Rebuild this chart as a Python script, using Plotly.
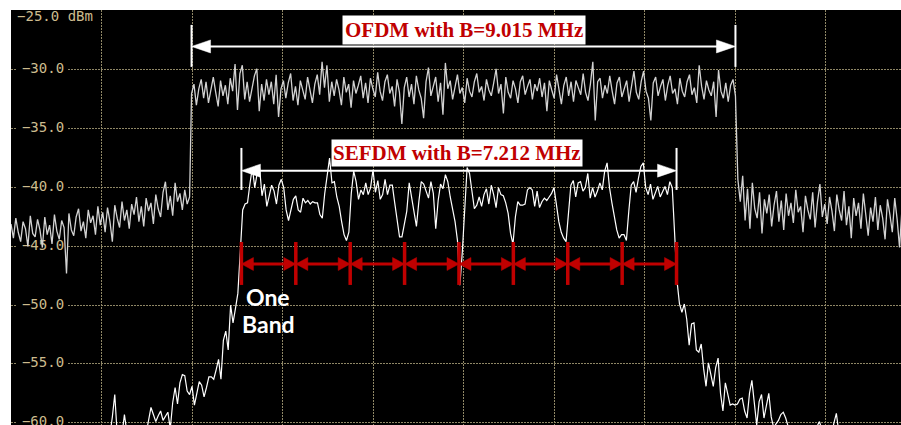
import numpy as np
import plotly.graph_objects as go

# ---------------------------------------------------------------------------
# Spectrum analyser sweep (frequency relative to centre, MHz; level in dBm)
# ---------------------------------------------------------------------------
F_START = -7.5          # left edge of the screen
F_STEP = 0.04           # MHz between sweep points

OFDM_BW = 9.015         # MHz
SEFDM_BW = 7.212        # MHz
SEFDM_CENTER = -0.075   # MHz
N_BANDS = 8

# OFDM trace: noise floor left of the band, occupied band, noise floor right
ofdm_floor_left = [
    -43.1, -44.3, -42.6, -43.8, -44.6, -42.9, -43.5, -45.0, -42.4, -43.9,
    -44.2, -42.7, -43.6, -45.1, -42.5, -44.0, -43.2, -44.8, -42.3, -43.7,
    -44.4, -42.8, -43.4, -47.3, -42.2, -43.6, -44.1, -42.5, -41.8, -43.7,
    -42.9, -44.3, -41.9, -43.0, -42.4, -44.0, -41.6, -43.2, -42.1, -43.8,
    -41.7, -42.9, -44.6, -41.5, -42.6, -43.4, -41.2, -42.8, -41.9, -43.5,
    -41.4, -42.3, -40.8, -42.9, -41.6, -43.3, -40.9, -42.0, -41.3, -43.1,
    -40.6, -41.8, -42.5, -40.4, -39.5, -41.9, -40.7, -42.4, -39.6, -41.2,
    -40.5, -41.9, -40.2, -41.4, -40.8,
]
ofdm_band = [
    -32.0, -31.2, -33.0, -31.6, -30.8, -32.4, -31.0, -32.8, -31.5, -30.6,
    -31.9, -33.1, -30.9, -32.2, -31.3, -32.9, -30.7, -31.8, -29.5, -33.4,
    -30.3, -29.6, -32.5, -31.0, -32.7, -31.4, -30.5, -29.9, -33.5, -31.2,
    -32.6, -30.8, -32.1, -31.0, -32.9, -30.4, -34.0, -31.6, -30.9, -32.4,
    -31.1, -30.3, -32.6, -31.4, -33.0, -30.9, -31.8, -32.5, -30.6, -31.9,
    -32.8, -31.2, -30.4, -32.1, -29.3, -31.5, -29.6, -32.7, -31.0, -32.2,
    -30.8, -31.7, -33.0, -30.6, -31.9, -31.2, -33.2, -30.9, -32.0, -31.3,
    -30.5, -32.4, -31.1, -32.8, -30.7, -31.6, -32.3, -30.2, -31.8, -32.6,
    -31.0, -30.4, -32.0, -31.4, -33.1, -30.8, -31.9, -34.6, -31.5, -30.6,
    -32.3, -31.2, -32.9, -30.5, -31.7, -32.4, -34.1, -31.0, -29.8, -32.2,
    -31.3, -30.6, -32.7, -31.1, -33.8, -29.4, -31.6, -30.9, -32.5, -31.3,
    -30.4, -32.0, -31.5, -32.8, -30.7, -31.8, -32.3, -31.0, -30.3, -31.9,
    -31.4, -32.6, -30.8, -31.7, -32.2, -31.1, -29.9, -32.0, -31.2, -33.7,
    -30.6, -31.9, -32.4, -30.9, -31.6, -32.8, -31.0, -30.5, -32.1, -31.4,
    -30.8, -32.5, -31.2, -31.8, -30.7, -32.3, -31.1, -33.5, -30.9, -31.7,
    -32.4, -30.4, -31.8, -32.9, -31.3, -30.6, -32.2, -31.0, -32.7, -30.9,
    -31.5, -32.1, -30.3, -31.9, -32.6, -31.2, -29.3, -34.3, -31.0, -30.7,
    -32.4, -31.3, -32.0, -30.5, -31.8, -32.9, -31.1, -30.6, -32.3, -31.5,
    -30.9, -32.7, -31.2, -30.1, -31.9, -32.5, -31.0, -30.1, -31.8, -32.4,
    -34.3, -31.1, -30.6, -32.2, -31.4, -30.8, -32.6, -31.3, -30.5, -32.0,
    -31.6, -32.9, -30.7, -31.8, -32.3, -31.0, -30.4, -32.1, -31.5, -32.8,
    -29.6, -31.4, -32.5, -30.9, -31.7, -32.2, -31.0, -34.0, -30.0, -31.8,
    -32.4, -31.1, -32.7, -31.3, -30.8, -32.2,
]
ofdm_floor_right = [
    -39.3, -41.2, -39.0, -42.8, -40.1, -43.5, -39.6, -41.8, -42.6, -40.4,
    -43.9, -41.0, -42.2, -40.6, -43.3, -41.5, -40.3, -42.9, -41.1, -43.6,
    -40.5, -42.4, -41.3, -43.0, -40.2, -42.1, -41.6, -43.8, -40.7, -41.9,
    -42.7, -40.4, -43.4, -41.2, -39.7, -42.5, -41.4, -43.1, -40.8, -42.0,
    -43.7, -40.6, -41.9, -42.8, -40.3, -43.2, -41.6, -44.3, -40.9, -42.4,
    -41.3, -43.5, -40.5, -42.2, -44.1, -41.7, -42.9, -40.8, -43.6, -41.5,
    -42.6, -44.4, -41.0, -42.3, -43.8, -40.9, -42.7, -45.1, -41.8,
]

# SEFDM trace over the full sweep
sefdm_trace = [
    -63.5, -64.2, -62.8, -65.0, -63.7, -64.5, -62.9, -63.8, -65.2, -64.0,
    -63.1, -64.6, -62.7, -63.9, -65.1, -63.4, -64.3, -62.6, -63.6, -64.8,
    -63.0, -62.4, -63.8, -64.1, -62.5, -63.3, -64.4, -62.2, -63.5, -62.8,
    -61.9, -63.2, -62.6, -61.7, -62.9, -62.1, -61.4, -62.7, -61.8, -62.3,
    -61.6, -61.0, -59.5, -57.6, -61.0, -62.0, -61.0, -59.3, -60.8, -62.0,
    -63.0, -62.5, -63.0, -62.0, -61.5, -62.0, -61.0, -60.0, -58.7, -59.3,
    -59.9, -59.4, -59.0, -59.8, -59.5, -59.1, -60.5, -58.3, -57.0, -58.4,
    -56.6, -55.9, -56.0, -57.3, -57.6, -56.9, -58.5, -57.6, -56.5, -56.8,
    -57.8, -57.0, -56.1, -56.1, -56.3, -55.5, -54.6, -56.3, -53.0, -52.2,
    -53.8, -50.0, -51.5, -50.3, -49.0, -45.5, -41.9, -41.4, -41.3, -39.7,
    -38.3, -40.0, -38.8, -38.3, -40.7, -39.7, -41.6, -40.7, -39.8, -40.3,
    -41.4, -39.8, -39.3, -40.0, -41.9, -42.8, -42.0, -41.0, -40.7, -41.9,
    -42.1, -40.9, -41.3, -41.1, -41.4, -41.2, -41.3, -41.3, -42.3, -42.6,
    -40.5, -38.9, -37.5, -39.6, -39.5, -40.8, -41.6, -42.9, -44.0, -44.5,
    -43.8, -40.5, -38.6, -39.5, -41.0, -40.2, -40.6, -39.6, -40.6, -40.0,
    -38.5, -40.4, -39.4, -41.0, -40.6, -39.3, -40.6, -39.8, -39.8, -41.3,
    -42.9, -44.2, -44.2, -43.0, -42.0, -39.6, -40.8, -42.3, -43.3, -41.2,
    -39.5, -39.7, -40.3, -40.9, -39.5, -40.5, -43.5, -41.1, -39.7, -40.1,
    -38.9, -39.5, -40.8, -42.0, -42.9, -44.5, -48.3, -45.5, -41.5, -38.3,
    -38.8, -40.5, -41.8, -41.5, -40.8, -41.6, -40.6, -40.1, -41.4, -39.8,
    -40.6, -41.7, -40.0, -40.6, -40.7, -41.3, -42.2, -43.9, -44.8, -42.5,
    -41.2, -41.5, -41.5, -41.4, -40.2, -40.0, -40.2, -41.6, -40.3, -41.7,
    -41.2, -40.9, -41.1, -40.8, -40.5, -40.0, -41.7, -42.9, -43.8, -44.3,
    -44.6, -42.0, -39.8, -39.4, -40.8, -39.6, -39.5, -40.3, -40.0, -38.8,
    -40.9, -40.0, -40.8, -40.3, -39.6, -40.2, -38.6, -37.9, -40.0, -41.3,
    -42.6, -43.6, -44.3, -44.0, -44.0, -44.5, -42.0, -39.8, -39.5, -40.4,
    -39.2, -38.2, -37.9, -40.0, -40.6, -39.7, -41.0, -40.5, -39.9, -40.8,
    -40.3, -39.9, -40.6, -39.5, -40.0, -44.0, -48.0, -49.9, -50.6, -49.9,
    -51.2, -53.4, -51.6, -51.5, -53.8, -54.0, -53.3, -55.4, -56.9, -54.9,
    -56.0, -56.9, -55.3, -54.5, -57.5, -59.0, -56.6, -57.5, -58.5, -58.4,
    -58.5, -58.4, -58.0, -57.9, -59.0, -59.6, -57.5, -56.4, -58.6, -60.2,
    -58.2, -57.6, -59.6, -58.5, -57.5, -59.5, -60.4, -60.1, -59.8, -59.3,
    -59.1, -59.6, -60.4, -61.0, -61.5, -62.0, -61.5, -62.5, -62.0, -61.0,
    -60.8, -61.5, -62.0, -61.0, -60.3, -59.9, -60.6, -61.0, -60.5, -60.2,
    -61.0, -60.0, -59.2, -60.8, -61.7, -62.4, -63.1, -62.0, -63.3, -62.6,
    -63.8, -62.9, -64.0, -63.2, -62.5, -63.6, -64.3, -63.0, -62.7, -63.9,
    -64.5, -63.4, -62.8, -64.1, -63.5, -64.7, -63.2, -62.9, -64.0, -63.6,
]

# Screen graticule and level read-outs
grid_mhz = [-6.0, -4.5, -3.0, -1.5, 0.0, 1.5, 3.0, 4.5, 6.0]
grid_db = [-30, -35, -40, -45, -50, -55, -60]
level_text = ["\u221230.0", "\u221235.0", "\u221240.0", "\u221245.0",
              "\u221250.0", "\u221255.0", "\u221260.0"]
ref_level = -25.0
ref_text = "\u221225.0 dBm"

# ---------------------------------------------------------------------------
W, H = 901, 425
M_L, M_T = 11, 10
PLOT_W, PLOT_H = W - M_L, H - M_T
X_RANGE = [F_START, 7.2514]
Y_RANGE = [-60.19, -24.9]
PX_X = PLOT_W / (X_RANGE[1] - X_RANGE[0])
PX_Y = PLOT_H / (Y_RANGE[1] - Y_RANGE[0])


def dx(px):
    return px / PX_X


def dy(px):
    return px / PX_Y


f_left = F_START + F_STEP * np.arange(len(ofdm_floor_left))
f_band = np.linspace(-OFDM_BW / 2, OFDM_BW / 2, len(ofdm_band))
f_right = OFDM_BW / 2 + F_STEP * (1 + np.arange(len(ofdm_floor_right)))
ofdm_f = np.concatenate([f_left, f_band, f_right])
ofdm_db = np.array(ofdm_floor_left + ofdm_band + ofdm_floor_right)

sefdm_f = F_START + F_STEP * np.arange(len(sefdm_trace))
sefdm_db = np.array(sefdm_trace)

GRID = "#8f8766"
LABEL = "#cdbc8e"
RED = "#c00000"
WHITE = "#ffffff"

fig = go.Figure()

# level read-outs sit under the traces
label_x = F_START + dx(32)
fig.add_trace(go.Scatter(
    x=[label_x] * len(grid_db), y=grid_db, text=level_text, mode="text",
    textposition="middle center",
    textfont=dict(family="DejaVu Sans Mono", size=14, color=LABEL),
    hoverinfo="skip"))
fig.add_trace(go.Scatter(
    x=[F_START + dx(44)], y=[ref_level - dy(6.5)], text=[ref_text],
    mode="text", textposition="middle center",
    textfont=dict(family="DejaVu Sans Mono", size=14, color=LABEL),
    hoverinfo="skip"))

fig.add_trace(go.Scatter(
    x=ofdm_f, y=ofdm_db, mode="lines",
    line=dict(color="#d2d2d2", width=1.3), hoverinfo="skip"))
fig.add_trace(go.Scatter(
    x=sefdm_f, y=sefdm_db, mode="lines",
    line=dict(color=WHITE, width=1.2), hoverinfo="skip"))

shapes = []

# black plates behind the level read-outs (cover the dotted graticule)
for lv in grid_db:
    shapes.append(dict(type="rect", layer="between",
                       x0=F_START + dx(5.5), x1=F_START + dx(57),
                       y0=lv - dy(6.5), y1=lv + dy(6.5),
                       fillcolor="black", line=dict(width=0)))


def seg(x0, y0, x1, y1, color, width):
    shapes.append(dict(type="line", x0=x0, y0=y0, x1=x1, y1=y1,
                       line=dict(color=color, width=width), layer="above"))


def head(x_tip, y, direction, length_px, half_px, color):
    L = direction * dx(length_px)
    h = dy(half_px)
    path = (f"M {x_tip},{y} L {x_tip + L},{y + h} "
            f"L {x_tip + L},{y - h} Z")
    shapes.append(dict(type="path", path=path, fillcolor=color,
                       line=dict(color=color, width=0.5), layer="above"))


def double_arrow(x0, x1, y, color, width, length_px, half_px):
    seg(x0 + dx(length_px * 0.5), y, x1 - dx(length_px * 0.5), y, color, width)
    head(x0, y, +1, length_px, half_px, color)
    head(x1, y, -1, length_px, half_px, color)


# OFDM bandwidth marker
o_lo, o_hi = -OFDM_BW / 2, OFDM_BW / 2
for xb in (o_lo, o_hi):
    seg(xb, -26.17, xb, -29.74, WHITE, 2)
double_arrow(o_lo, o_hi, -28.0, WHITE, 2, 19, 6.5)

# SEFDM bandwidth marker
s_lo, s_hi = SEFDM_CENTER - SEFDM_BW / 2, SEFDM_CENTER + SEFDM_BW / 2
for xb in (s_lo, s_hi):
    seg(xb, -36.63, xb, -40.2, WHITE, 2)
double_arrow(s_lo, s_hi, -38.56, WHITE, 2, 19, 6.5)

# per-band markers inside the SEFDM signal
edges = [s_lo + k * SEFDM_BW / N_BANDS for k in range(N_BANDS + 1)]
for xe in edges:
    seg(xe, -44.63, xe, -48.28, RED, 3.5)
for a, b in zip(edges[:-1], edges[1:]):
    double_arrow(a, b, -46.5, RED, 3, 12, 6.5)

annotations = [
    dict(x=0.0, y=-26.56, text=f"<b>OFDM with B={OFDM_BW:.3f} MHz</b>",
         showarrow=False, bgcolor="white", borderpad=2,
         font=dict(family="Liberation Serif, Times New Roman, serif",
                   size=21, color=RED)),
    dict(x=-0.1, y=-37.02, text=f"<b>SEFDM with B={SEFDM_BW:.3f} MHz</b>",
         showarrow=False, bgcolor="white", borderpad=1,
         font=dict(family="Liberation Serif, Times New Roman, serif",
                   size=21, color=RED)),
    dict(x=-3.24, y=-49.3, text="<b>One</b>", showarrow=False,
         font=dict(family="Liberation Sans Narrow, Lato, sans-serif",
                   size=23, color=WHITE)),
    dict(x=-3.23, y=-51.6, text="<b>Band</b>", showarrow=False,
         font=dict(family="Liberation Sans Narrow, Lato, sans-serif",
                   size=23, color=WHITE)),
]

fig.update_layout(
    width=W, height=H, autosize=False,
    margin=dict(l=M_L, r=0, t=M_T, b=0, pad=0),
    paper_bgcolor="white", plot_bgcolor="black",
    showlegend=False, hovermode=False,
    shapes=shapes, annotations=annotations,
    xaxis=dict(range=X_RANGE, tickvals=grid_mhz, showticklabels=False,
               ticks="", showgrid=True, gridcolor=GRID, gridwidth=1,
               griddash="2px,1px", zeroline=False, showline=False,
               fixedrange=True),
    yaxis=dict(range=Y_RANGE, tickvals=grid_db, showticklabels=False,
               ticks="", showgrid=True, gridcolor=GRID, gridwidth=1,
               griddash="2px,1px", zeroline=False, showline=False,
               fixedrange=True),
)

fig.write_html("out.html")
